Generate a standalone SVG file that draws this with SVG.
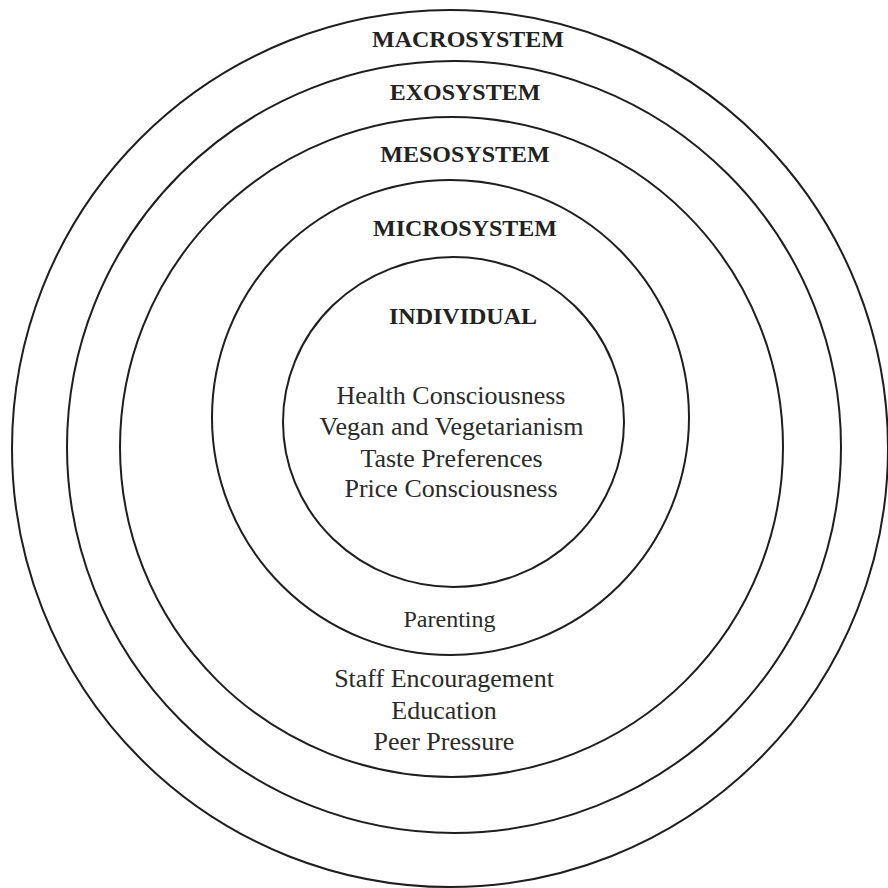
<svg xmlns="http://www.w3.org/2000/svg" width="888" height="888" viewBox="0 0 888 888">
<style>
.ring{fill:none;stroke:#1e1e1e;stroke-width:2}
.h{font-family:"Liberation Serif","Times New Roman",serif;font-weight:bold;font-size:24px;fill:#222;text-anchor:middle}
.t{font-family:"Liberation Serif","Times New Roman",serif;font-size:26px;fill:#2a2a2a;text-anchor:middle}
</style>
<rect width="888" height="888" fill="#fff"/>
<g id="macrosystem">
<ellipse class="ring" cx="450" cy="448.5" rx="438" ry="438.5"/>
<text class="h" x="468" y="47">MACROSYSTEM</text>
</g>
<g id="exosystem">
<ellipse class="ring" cx="454" cy="447" rx="387" ry="386"/>
<text class="h" x="465" y="100">EXOSYSTEM</text>
</g>
<g id="mesosystem">
<ellipse class="ring" cx="451.5" cy="447" rx="331.5" ry="330"/>
<text class="h" x="465" y="162">MESOSYSTEM</text>
<text class="t" x="444" y="687">Staff Encouragement</text>
<text class="t" x="444" y="719">Education</text>
<text class="t" x="444" y="750">Peer Pressure</text>
</g>
<g id="microsystem">
<ellipse class="ring" cx="450.5" cy="417.5" rx="238.5" ry="237.5"/>
<text class="h" x="465" y="236">MICROSYSTEM</text>
<text class="t" x="449.5" y="627" style="font-size:24px">Parenting</text>
</g>
<g id="individual">
<ellipse class="ring" cx="453.5" cy="422" rx="170.5" ry="165"/>
<text class="h" x="463" y="324">INDIVIDUAL</text>
<text class="t" x="451" y="404">Health Consciousness</text>
<text class="t" x="451.5" y="435">Vegan and Vegetarianism</text>
<text class="t" x="451.5" y="467">Taste Preferences</text>
<text class="t" x="451" y="497">Price Consciousness</text>
</g>
<g id="connectors"/>
</svg>
